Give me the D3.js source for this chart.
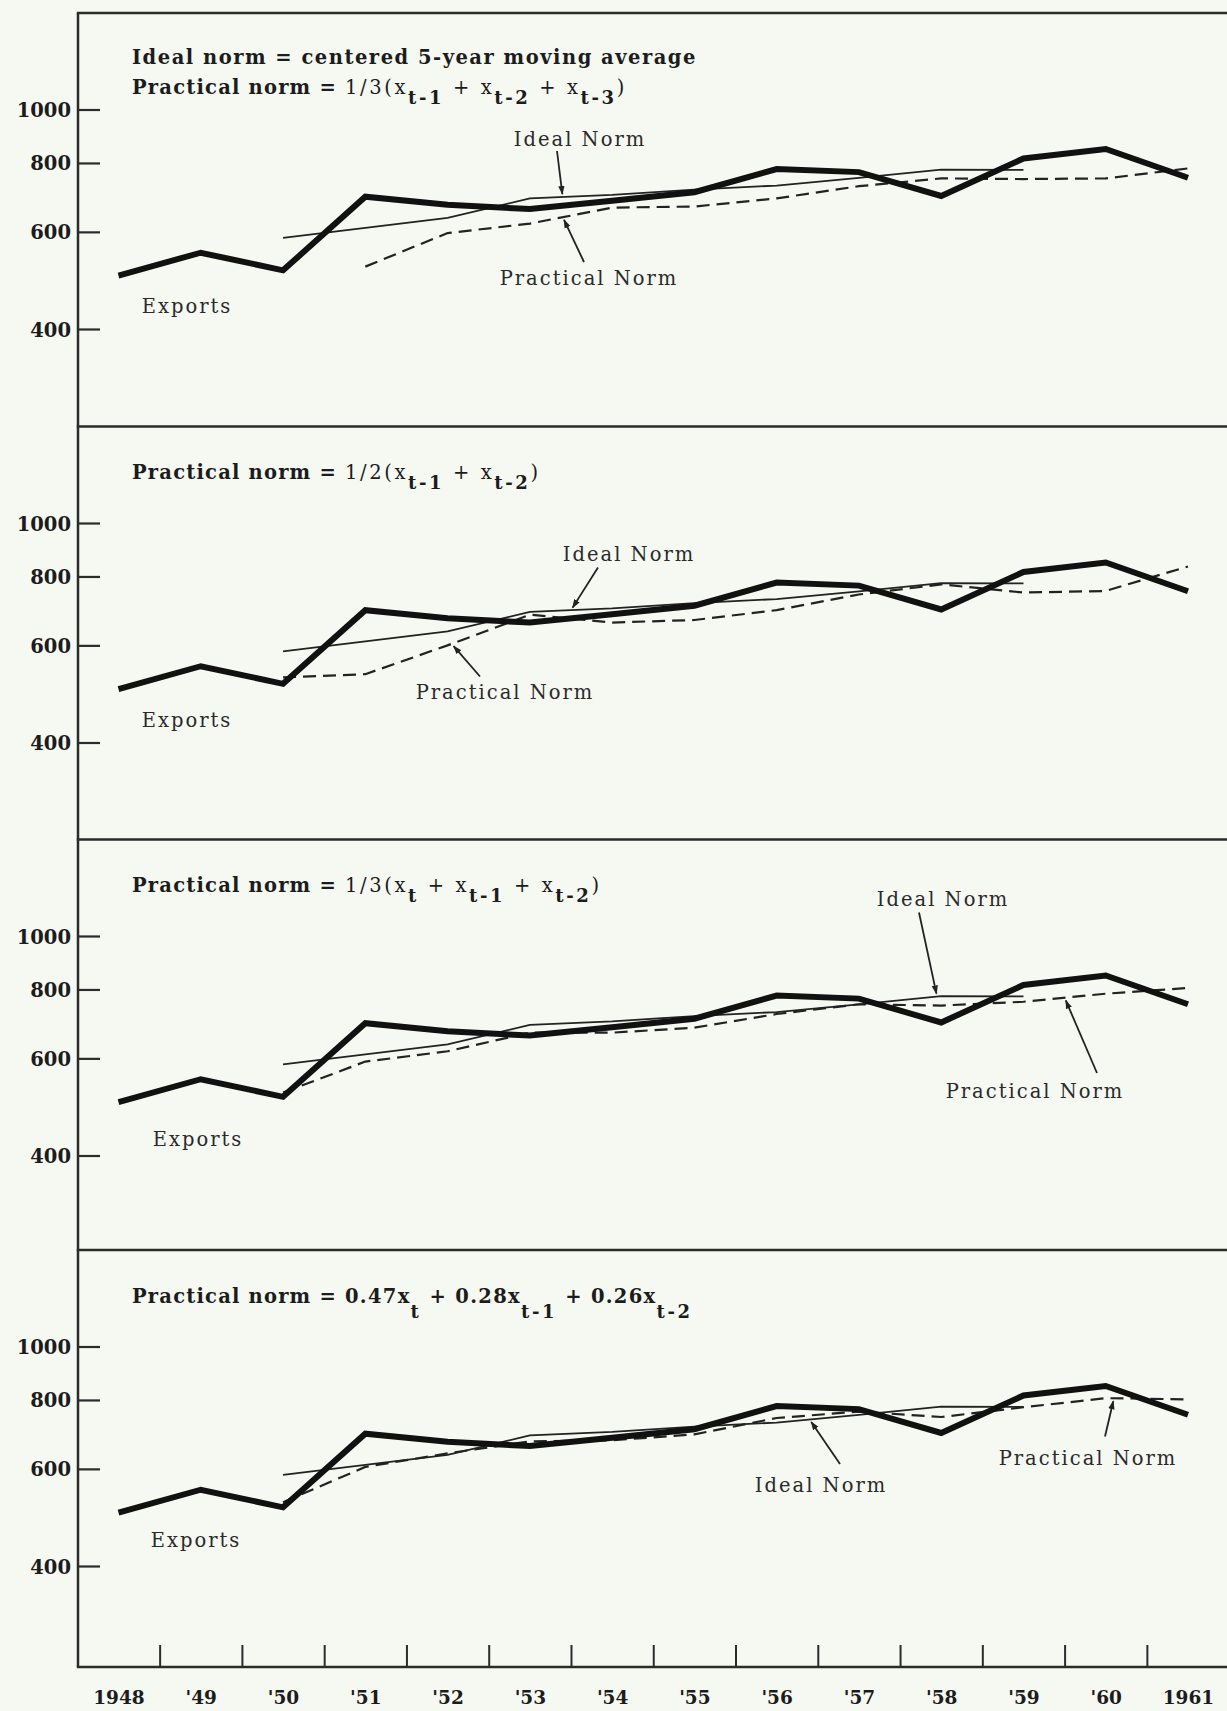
<!DOCTYPE html>
<html>
<head>
<meta charset="utf-8">
<script src="https://cdn.jsdelivr.net/npm/d3@7"></script>
<style>
  html, body { margin: 0; padding: 0; background: #f6f8f2; }
  svg { display: block; }
  .bold { font-family: "DejaVu Serif", serif; font-weight: bold; fill: #1c1c1c; }
  .lbl { font-family: "DejaVu Serif", serif; fill: #2a2a2a; }
</style>
</head>
<body>
<svg id="chart" width="1227" height="1711"></svg>
<script>
// ---- data: annual exports and the norms derived from them ----
const years = [1948, 1949, 1950, 1951, 1952, 1953, 1954, 1955, 1956, 1957, 1958, 1959, 1960, 1961];
const yearLabels = ["1948", "'49", "'50", "'51", "'52", "'53", "'54", "'55", "'56", "'57", "'58", "'59", "'60", "1961"];
const exportsValues = [500, 550, 511, 695, 672, 660, 683, 708, 780, 770, 697, 815, 848, 752];

const idealYears = [1950, 1951, 1952, 1953, 1954, 1955, 1956, 1957, 1958, 1959];
const idealNorm  = [585, 610, 636, 690, 700, 716, 728, 752, 778, 777];

const practicalYearsA = [1951, 1952, 1953, 1954, 1955, 1956, 1957, 1958, 1959, 1960, 1961];
const practicalA = [519, 597, 621, 664, 667, 690, 726, 750, 748, 750, 782];   // 1/3(x[t-1]+x[t-2]+x[t-3])

const practicalYearsB = [1950, 1951, 1952, 1953, 1954, 1955, 1956, 1957, 1958, 1959, 1960, 1961];
const practicalB = [525, 532, 600, 682, 660, 667, 695, 742, 774, 748, 753, 834];  // 1/2(x[t-1]+x[t-2])
const practicalC = [520, 592, 618, 668, 668, 682, 722, 752, 748, 760, 786, 805];  // 1/3(x[t]+x[t-1]+x[t-2])
const practicalD = [522, 605, 640, 673, 676, 693, 742, 762, 745, 776, 806, 802];  // 0.47x[t]+0.28x[t-1]+0.26x[t-2]

const yTickValues = [400, 600, 800, 1000];

// formula captions: [text, style]; "b" bold words, "n" normal-weight math, "m" bold math, "s" subscript
const captionsA = [
  [["Ideal norm = centered 5-year moving average", "b"]],
  [["Practical norm = ", "b"], ["1/3(", "n"], ["x", "n"], ["t-1", "s"], [" + x", "n"], ["t-2", "s"], [" + x", "n"], ["t-3", "s"], [")", "n"]]
];
const captionsB = [[["Practical norm = ", "b"], ["1/2(", "n"], ["x", "n"], ["t-1", "s"], [" + x", "n"], ["t-2", "s"], [")", "n"]]];
const captionsC = [[["Practical norm = ", "b"], ["1/3(", "n"], ["x", "n"], ["t", "s"], [" + x", "n"], ["t-1", "s"], [" + x", "n"], ["t-2", "s"], [")", "n"]]];
const captionsD = [[["Practical norm = ", "b"], ["0.47x", "m"], ["t", "s"], [" + 0.28x", "m"], ["t-1", "s"], [" + 0.26x", "m"], ["t-2", "s"]]];

// ---- layout ----
const W = 1227, H = 1711;
const axisX = 78;
const bottomY = 1667;
const panelTops = [13, 426.5, 839.5, 1250];

const panels = [
  { top: panelTops[0], pYears: practicalYearsA, pVals: practicalA, captions: captionsA, subDrop: 10,
    notes: [
      { text: "Ideal Norm", series: "ideal", tipYear: 1953.4, tail: [557, 138], label: [580, 133] },
      { text: "Practical Norm", series: "practical", tipYear: 1953.4, tail: [584, 249], label: [589, 272] },
      { text: "Exports", label: [187, 300] }
    ] },
  { top: panelTops[1], pYears: practicalYearsB, pVals: practicalB, captions: captionsB, subDrop: 10,
    notes: [
      { text: "Ideal Norm", series: "ideal", tipYear: 1953.5, tail: [598, 141], label: [629, 134] },
      { text: "Practical Norm", series: "practical", tipYear: 1952.05, tail: [480, 250], label: [505, 272.5] },
      { text: "Exports", label: [187, 300.5] }
    ] },
  { top: panelTops[2], pYears: practicalYearsB, pVals: practicalC, captions: captionsC, subDrop: 10,
    notes: [
      { text: "Ideal Norm", series: "ideal", tipYear: 1957.95, tail: [919, 73], label: [943, 66.5] },
      { text: "Practical Norm", series: "practical", tipYear: 1959.5, tail: [1097, 233.5], label: [1035, 258] },
      { text: "Exports", label: [198, 306] }
    ] },
  { top: panelTops[3], pYears: practicalYearsB, pVals: practicalD, captions: captionsD, subDrop: 15,
    notes: [
      { text: "Ideal Norm", series: "ideal", tipYear: 1956.4, tail: [840, 214], label: [821, 242] },
      { text: "Practical Norm", series: "practical", tipYear: 1960.1, tail: [1105, 186.5], label: [1088, 214.5] },
      { text: "Exports", label: [196, 297] }
    ] }
];

const svg = d3.select("#chart");
svg.append("rect").attr("width", W).attr("height", H).attr("fill", "#f6f8f2");

const defs = svg.append("defs");
defs.append("marker")
  .attr("id", "head").attr("viewBox", "0 0 10 10").attr("refX", 9).attr("refY", 5)
  .attr("markerWidth", 9).attr("markerHeight", 9).attr("markerUnits", "userSpaceOnUse")
  .attr("orient", "auto")
  .append("path").attr("d", "M0,1.5 L10,5 L0,8.5 Z").attr("fill", "#222");

const x = d3.scaleLinear().domain([1948, 1961]).range([118.5, 1188]);

// frame: left axis, top edge, panel dividers and base line
const frame = svg.append("g").attr("stroke", "#2b2b2b").attr("stroke-width", 2.5).attr("fill", "none");
frame.append("line").attr("x1", axisX).attr("x2", axisX).attr("y1", panelTops[0]).attr("y2", bottomY);
[...panelTops, bottomY].forEach(yy => {
  frame.append("line").attr("x1", axisX - 1.2).attr("x2", W + 2).attr("y1", yy).attr("y2", yy);
});

// interpolate a series at a fractional year
function valueAt(ys, vs, yr) {
  for (let i = 0; i < ys.length - 1; i++) {
    if (yr >= ys[i] && yr <= ys[i + 1]) {
      const t = (yr - ys[i]) / (ys[i + 1] - ys[i]);
      return Math.exp(Math.log(vs[i]) * (1 - t) + Math.log(vs[i + 1]) * t);
    }
  }
  return vs[vs.length - 1];
}

panels.forEach(p => {
  const y = d3.scaleLog().domain([400, 1000]).range([p.top + 316, p.top + 96.5]);
  const g = svg.append("g");

  // y tick marks and labels
  const tickAxis = d3.axisRight(y).tickValues(yTickValues).tickSize(22).tickFormat("");
  const ta = g.append("g").attr("transform", `translate(${axisX},0)`).call(tickAxis);
  ta.select(".domain").remove();
  ta.selectAll(".tick line").attr("stroke", "#2b2b2b").attr("stroke-width", 2.2);

  const labelAxis = d3.axisLeft(y).tickValues(yTickValues).tickSize(0).tickPadding(7).tickFormat(d3.format("d"));
  const la = g.append("g").attr("transform", `translate(${axisX},0)`).call(labelAxis);
  la.select(".domain").remove();
  la.selectAll(".tick text").attr("class", "bold").attr("font-size", 19.5).attr("dy", "0.36em");

  const line = d3.line().x(d => x(d[0])).y(d => y(d[1]));

  // practical norm (dashed)
  g.append("path")
    .datum(d3.zip(p.pYears, p.pVals))
    .attr("d", line).attr("fill", "none").attr("stroke", "#222")
    .attr("stroke-width", 2.2).attr("stroke-dasharray", "13,7");

  // ideal norm (thin)
  g.append("path")
    .datum(d3.zip(idealYears, idealNorm))
    .attr("d", line).attr("fill", "none").attr("stroke", "#222").attr("stroke-width", 1.8);

  // exports (heavy)
  g.append("path")
    .datum(d3.zip(years, exportsValues))
    .attr("d", line).attr("fill", "none").attr("stroke", "#111")
    .attr("stroke-width", 6).attr("stroke-linejoin", "miter");

  // formula captions
  p.captions.forEach((segs, li) => {
    const base = p.top + (p.captions.length === 2 ? (li === 0 ? 51 : 80.5) : 52.5);
    const t = g.append("text").attr("class", "bold").attr("x", 132).attr("y", base)
      .attr("font-size", 19.5).attr("letter-spacing", li === 0 && p.captions.length === 2 ? 1.5 : 1.2);
    let down = false;
    segs.forEach(([txt, st]) => {
      const ts = t.append("tspan").text(txt);
      if (st === "n" || st === "s") ts.attr("letter-spacing", 2.6);
      if (st === "m") ts.attr("letter-spacing", 1.3);
      if (st === "s") {
        ts.attr("dy", down ? 0 : p.subDrop).attr("font-size", 18);
        down = true;
      } else {
        if (down) { ts.attr("dy", -p.subDrop); down = false; }
        if (st === "n") ts.attr("font-weight", "normal");
      }
    });
  });

  // annotations: labels and arrows pointing at the norm lines
  p.notes.forEach(n => {
    g.append("text").attr("class", "lbl")
      .attr("x", n.label[0]).attr("y", p.top + n.label[1])
      .attr("text-anchor", "middle").attr("font-size", 19.5).attr("letter-spacing", 2)
      .text(n.text);
    if (n.series) {
      const v = n.series === "ideal" ? valueAt(idealYears, idealNorm, n.tipYear) : valueAt(p.pYears, p.pVals, n.tipYear);
      const tx = x(n.tipYear), ty = y(v);
      const x1 = n.tail[0], y1 = p.top + n.tail[1];
      const dx = tx - x1, dy = ty - y1, len = Math.hypot(dx, dy);
      const gap = 3;
      g.append("line")
        .attr("x1", x1).attr("y1", y1)
        .attr("x2", tx - dx / len * gap).attr("y2", ty - dy / len * gap)
        .attr("stroke", "#222").attr("stroke-width", 1.8)
        .attr("marker-end", "url(#head)");
    }
  });
});

// year ticks on the base line and year labels beneath
const yearTicks = d3.range(1948.5, 1961, 1);
const xt = svg.append("g").attr("transform", `translate(0,${bottomY})`)
  .call(d3.axisTop(x).tickValues(yearTicks).tickSize(22).tickFormat(""));
xt.select(".domain").remove();
xt.selectAll(".tick line").attr("stroke", "#2b2b2b").attr("stroke-width", 2);

const xl = svg.append("g").attr("transform", `translate(0,${bottomY})`)
  .call(d3.axisBottom(x).tickValues(years).tickSize(0).tickPadding(24).tickFormat((d, i) => yearLabels[i]));
xl.select(".domain").remove();
xl.selectAll(".tick text").attr("class", "bold").attr("font-size", 18.5);
</script>
</body>
</html>
